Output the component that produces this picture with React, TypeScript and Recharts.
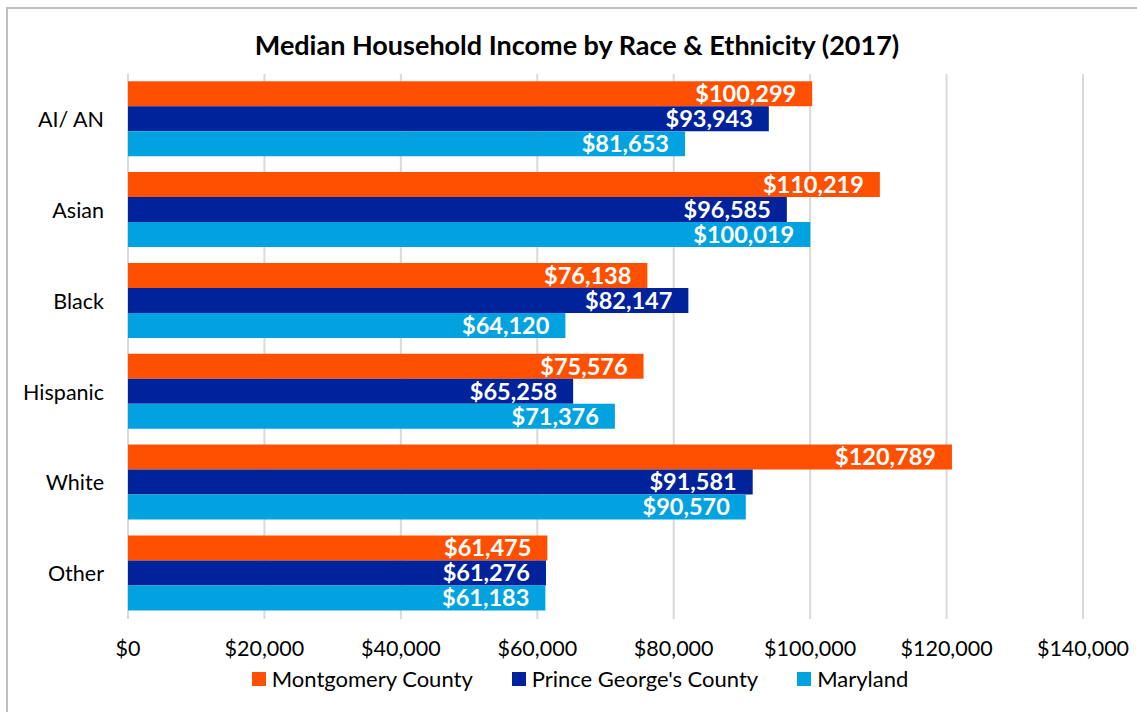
import React from "react";
import { BarChart, Bar, XAxis, YAxis, CartesianGrid, LabelList } from "recharts";

const categories = ["AI/ AN", "Asian", "Black", "Hispanic", "White", "Other"];
const montgomery = [100299, 110219, 76138, 75576, 120789, 61475];
const princeGeorges = [93943, 96585, 82147, 65258, 91581, 61276];
const maryland = [81653, 100019, 64120, 71376, 90570, 61183];
const xTicks = [0, 20000, 40000, 60000, 80000, 100000, 120000, 140000];

const seriesNames = ["Montgomery County", "Prince George's County", "Maryland"];
const colors = ["#FF4F00", "#00239C", "#00A3E0"];

const data = categories.map((c, i) => ({
  cat: c,
  mc: montgomery[i],
  pg: princeGeorges[i],
  md: maryland[i],
}));

const fmt = (v: number) => "$" + v.toLocaleString("en-US");
const FONT = "Lato, 'Open Sans', sans-serif";

export default function App() {
  return (
    <div style={{ position: "absolute", left: 0, top: 0, width: 1137, height: 712, background: "#fff", overflow: "hidden" }}>
      <div style={{ position: "absolute", left: 6, top: 7, width: 1140, height: 720, border: "2px solid #bfbfbf", boxSizing: "border-box" }} />
      <div style={{ position: "absolute", left: 0, top: 28, width: 1154, textAlign: "center", fontFamily: FONT, fontWeight: 700, fontSize: 27, color: "#000" }}>
        Median Household Income by Race &amp; Ethnicity (2017)
      </div>
      <div style={{ position: "absolute", left: 0, top: 0 }}>
        <BarChart
          width={1137}
          height={712}
          data={data}
          layout="vertical"
          margin={{ top: 74, right: 54, left: 0, bottom: 53 }}
          barCategoryGap="8%"
          barGap={0}
        >
          <CartesianGrid horizontal={false} vertical={true} stroke="#d9d9d9" strokeWidth={2} />
          <XAxis
            type="number"
            domain={[0, 140000]}
            ticks={xTicks}
            tickFormatter={fmt}
            axisLine={false}
            tickLine={false}
            height={40}
            tick={{ fill: "#000", fontSize: 21.5, fontFamily: FONT, dy: 14 }}
            interval={0}
          />
          <YAxis
            type="category"
            dataKey="cat"
            width={128}
            axisLine={false}
            tickLine={false}
            tick={{ fill: "#000", fontSize: 21.5, fontFamily: FONT, dx: -16 }}
          />
          {(["mc", "pg", "md"] as const).map((k, i) => (
            <Bar key={k} dataKey={k} name={seriesNames[i]} fill={colors[i]} isAnimationActive={false}>
              <LabelList
                dataKey={k}
                position="insideRight"
                offset={16}
                formatter={(v: any) => fmt(Number(v))}
                style={{ fill: "#fff", fontSize: 23.5, fontWeight: 700, fontFamily: FONT }}
              />
            </Bar>
          ))}
        </BarChart>
      </div>
      <div style={{ position: "absolute", left: 0, top: 666, width: 1160, display: "flex", justifyContent: "center", fontFamily: FONT, fontSize: 22, color: "#000", lineHeight: "26px" }}>
        {seriesNames.map((n, i) => (
          <div key={n} style={{ display: "flex", alignItems: "center", marginRight: i < 2 ? 39 : 0 }}>
            <span style={{ width: 14, height: 14, background: colors[i], display: "inline-block", marginRight: 6 }} />
            <span>{n}</span>
          </div>
        ))}
      </div>
    </div>
  );
}
